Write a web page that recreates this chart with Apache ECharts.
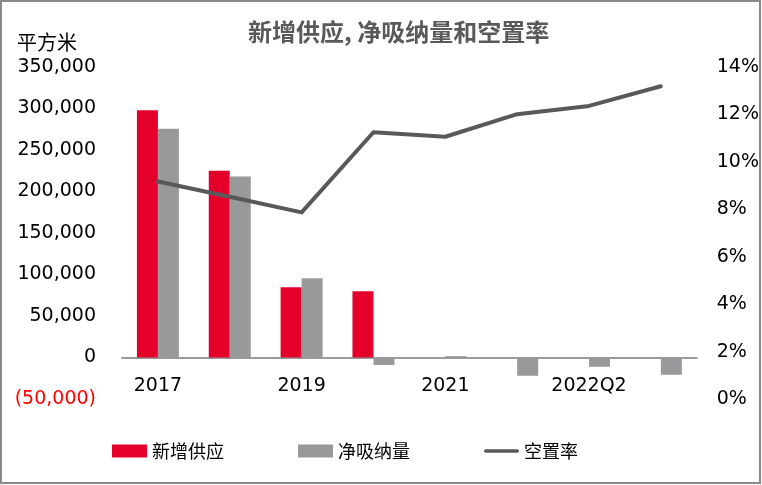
<!DOCTYPE html>
<html>
<head>
<meta charset="utf-8">
<script src="https://cdn.jsdelivr.net/npm/echarts@6/dist/echarts.min.js"></script>
<style>
html,body{margin:0;padding:0;background:#fff;}
#chart{width:762px;height:485px;}
</style>
</head>
<body>
<div id="chart"></div>
<script>
const categories = ['2017', '2018', '2019', '2020', '2021', '2022Q1', '2022Q2', '2022Q3'];
const newSupply = [298000, 225000, 84600, 79800, 0, 0, 0, 0];
const netAbsorption = [275600, 218000, 95400, -9100, 1700, -22000, -11200, -20800];
const vacancyRate = [9.17, 8.53, 7.87, 11.25, 11.06, 12.01, 12.36, 13.19];
const leftTicks = { min: -50000, max: 350000, interval: 50000 };
const rightTicks = { min: 0, max: 14, interval: 2 };
const seriesNames = ['新增供应', '净吸纳量', '空置率'];
const titleText = '新增供应, 净吸纳量和空置率';
const unitText = '平方米';

const latin = 'DejaVu Sans, Noto Sans, sans-serif';
const cjk = '"Noto Sans CJK SC", sans-serif';

const chart = echarts.init(document.getElementById('chart'), null, { renderer: 'canvas' });
chart.setOption({
  animation: false,
  backgroundColor: '#ffffff',
  title: {
    text: titleText,
    left: 243,
    top: 15,
    textStyle: { fontFamily: cjk, fontSize: 24, fontWeight: 'bold', color: '#595959' }
  },
  graphic: [
    {
      type: 'text', left: 17, top: 32,
      style: { text: unitText, font: '20px "Noto Sans CJK SC"', fill: '#000' }
    },
    {
      type: 'rect', silent: true,
      shape: { x: 1, y: 1, width: 759, height: 482 },
      style: { fill: 'none', stroke: '#8a8a8a', lineWidth: 2 }
    }
  ],
  legend: {
    left: 107,
    top: 437,
    itemGap: 74,
    itemWidth: 35,
    itemHeight: 13,
    symbolKeepAspect: true,
    textStyle: { fontFamily: cjk, fontSize: 18, color: '#000' },
    data: [
      { name: seriesNames[0], icon: 'rect' },
      { name: seriesNames[1], icon: 'rect' },
      { name: seriesNames[2], icon: 'path://M2,0 L38,0 A2,2 0 0 1 38,4 L2,4 A2,2 0 0 1 2,0 Z' }
    ]
  },
  grid: { left: 122, right: 62, top: 67, bottom: 86, containLabel: false },
  xAxis: {
    type: 'category',
    data: categories,
    axisLine: { onZero: true, lineStyle: { color: '#9a9a9a', width: 2 } },
    axisTick: { show: false },
    axisLabel: { interval: 1, margin: -22, fontFamily: latin, fontSize: 19, color: '#000' },
    splitLine: { show: false }
  },
  yAxis: [
    {
      type: 'value',
      min: leftTicks.min, max: leftTicks.max, interval: leftTicks.interval,
      axisLine: { show: false },
      axisTick: { show: false },
      splitLine: { show: false },
      axisLabel: {
        margin: 26,
        fontFamily: latin,
        fontSize: 19,
        color: function (v) { return Number(v) < 0 ? '#ff0000' : '#000'; },
        formatter: function (v) {
          const s = Math.abs(v).toLocaleString('en-US');
          return v < 0 ? '(' + s + ')' : s;
        }
      }
    },
    {
      type: 'value',
      min: rightTicks.min, max: rightTicks.max, interval: rightTicks.interval,
      axisLine: { show: false },
      axisTick: { show: false },
      splitLine: { show: false },
      axisLabel: {
        margin: 20,
        fontFamily: latin,
        fontSize: 19,
        color: '#000',
        formatter: '{value}%'
      }
    }
  ],
  series: [
    {
      name: seriesNames[0], type: 'bar', data: newSupply,
      barWidth: 21, barGap: '0%',
      itemStyle: { color: '#e4002b' }
    },
    {
      name: seriesNames[1], type: 'bar', data: netAbsorption,
      barWidth: 21, barGap: '0%',
      itemStyle: { color: '#97999b' }
    },
    {
      name: seriesNames[2], type: 'line', data: vacancyRate, yAxisIndex: 1,
      symbol: 'none', showSymbol: false,
      lineStyle: { color: '#58595b', width: 4, cap: 'round', join: 'round' },
      itemStyle: { color: '#58595b' },
      z: 5
    }
  ]
});
</script>
</body>
</html>
